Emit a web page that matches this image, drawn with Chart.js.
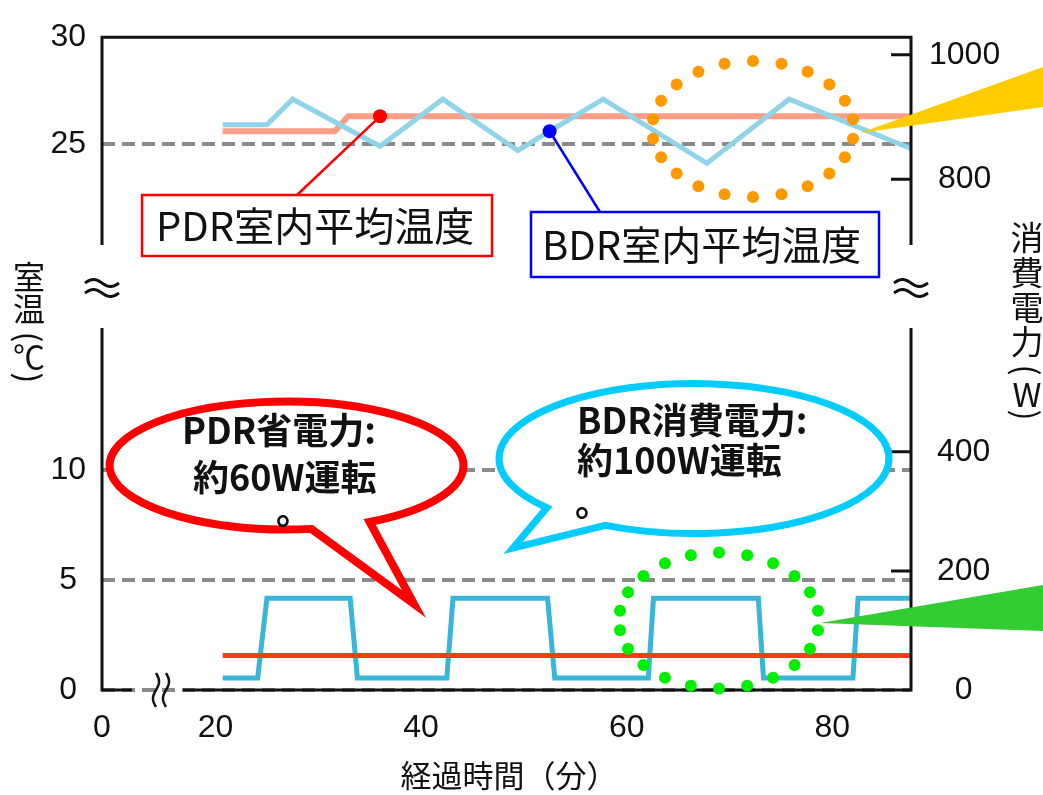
<!DOCTYPE html>
<html>
<head>
<meta charset="utf-8">
<script src="https://cdn.jsdelivr.net/npm/chart.js@4.4.1/dist/chart.umd.min.js"></script>
<style>
  body { margin: 0; background: #fff; overflow: hidden; }
  #wrap { position: relative; width: 1043px; height: 795px; }
  #wrap canvas { position: absolute; left: 0; top: 0; }
</style>
</head>
<body>
<div id="wrap">
  <canvas id="topChart" width="1043" height="795"></canvas>
  <canvas id="bottomChart" width="1043" height="795"></canvas>
</div>
<script>
// 上段: 室内平均温度 (℃)
var bdrTempTime = [20.7, 25.0, 27.5, 36.0, 42.1, 49.4, 57.7, 67.8, 75.8, 87.6];
var bdrTemp     = [25.9, 25.9, 27.1, 24.9, 27.1, 24.7, 27.1, 24.1, 27.1, 24.8];
var pdrTempTime = [20.7, 31.6, 32.9, 87.6];
var pdrTemp     = [25.6, 25.6, 26.3, 26.3];

// 下段: 消費電力 (W)
var bdrPowerTime = [20.7, 24.1, 25.0, 33.1, 33.8, 42.5, 43.1, 52.3, 53.0, 62.1, 62.6, 72.8, 73.3, 82.0, 82.5, 87.6];
var bdrPower     = [20, 20, 154, 154, 20, 20, 154, 154, 20, 20, 154, 154, 20, 20, 154, 154];
var pdrPowerTime = [20.7, 87.6];
var pdrPower     = [58, 58];

// 目盛
var xTicks = [0, 20, 40, 60, 80];
var tempTicksTop = [25, 30];
var tempTicksBottom = [0, 5, 10];
var powerTicksTop = [800, 1000];
var powerTicksBottom = [0, 200, 400];
var dashTop = [25];
var dashBottom = [0, 5, 10];

// 引き出し線の位置 (分, ℃)
var pdrLabelAt = [36.0, 26.3];
var bdrLabelAt = [52.5, 25.6];

var X_MIN = 8.96, X_MAX = 87.65;
var CJK = '"Noto Sans CJK JP", "Noto Sans CJK SC", sans-serif';

Chart.defaults.font.family = '"Liberation Sans", Arial, sans-serif';
Chart.defaults.color = '#111';

function pairs(xs, ys) {
  return xs.map(function (x, i) { return { x: x, y: ys[i] }; });
}
function fixTicks(list) {
  return function (scale) { scale.ticks = list.map(function (v) { return { value: v }; }); };
}
function fixWidth(w) {
  return function (scale) { scale.width = w; };
}
function plain(value) {
  return String(value);
}
function dashColor(list) {
  return function (ctx) {
    return ctx.tick && list.indexOf(ctx.tick.value) >= 0 ? '#8a8a8a' : 'rgba(0,0,0,0)';
  };
}

// 波線 (≈ と ≀)
function tilde(ctx, cx, cy, w, amp) {
  ctx.beginPath();
  for (var k = 0; k <= 30; k++) {
    var px = cx - w / 2 + w * k / 30;
    var py = cy - amp * Math.sin(2 * Math.PI * k / 30);
    if (k) ctx.lineTo(px, py); else ctx.moveTo(px, py);
  }
  ctx.stroke();
}
function waveV(ctx, cx, cy, h, amp) {
  ctx.beginPath();
  for (var k = 0; k <= 30; k++) {
    var py = cy - h / 2 + h * k / 30;
    var px = cx + amp * Math.sin(2 * Math.PI * k / 30);
    if (k) ctx.lineTo(px, py); else ctx.moveTo(px, py);
  }
  ctx.stroke();
}
function dottedEllipse(ctx, cx, cy, rx, ry, n, r, color) {
  ctx.fillStyle = color;
  for (var k = 0; k < n; k++) {
    var a = -Math.PI / 2 + 2 * Math.PI * k / n;
    ctx.beginPath();
    ctx.arc(cx + rx * Math.cos(a), cy + ry * Math.sin(a), r, 0, 2 * Math.PI);
    ctx.fill();
  }
}
function wedge(ctx, pts, color) {
  ctx.fillStyle = color;
  ctx.beginPath();
  ctx.moveTo(pts[0][0], pts[0][1]);
  ctx.lineTo(pts[1][0], pts[1][1]);
  ctx.lineTo(pts[2][0], pts[2][1]);
  ctx.closePath();
  ctx.fill();
}
// 吹き出し: a0..a1 (度) が尻尾の付け根
function bubble(ctx, cx, cy, rx, ry, a0, a1, tip, color, lw) {
  ctx.beginPath();
  ctx.ellipse(cx, cy, rx, ry, 0, a1 * Math.PI / 180, (a0 + 360) * Math.PI / 180);
  ctx.lineTo(tip[0], tip[1]);
  ctx.closePath();
  ctx.fillStyle = '#fff';
  ctx.fill();
  ctx.lineWidth = lw;
  ctx.lineJoin = 'miter';
  ctx.strokeStyle = color;
  ctx.stroke();
}
function verticalTitle(ctx, chars, ys, x, size) {
  ctx.fillStyle = '#111';
  ctx.textAlign = 'center';
  ctx.textBaseline = 'middle';
  ctx.font = size + 'px ' + CJK;
  chars.forEach(function (c, i) {
    if (c === '(' || c === ')') {
      ctx.save();
      ctx.translate(x, ys[i]);
      ctx.rotate(Math.PI / 2);
      ctx.fillText(c, 0, 0);
      ctx.restore();
    } else {
      ctx.fillText(c, x, ys[i]);
    }
  });
}

var topDecor = {
  id: 'topDecor',
  afterDatasetsDraw: function (chart) {
    var ctx = chart.ctx, a = chart.chartArea, yP = chart.scales.yP;
    ctx.save();
    ctx.strokeStyle = '#111';
    ctx.lineWidth = 3;
    ctx.beginPath();
    ctx.moveTo(a.left, a.bottom);
    ctx.lineTo(a.left, a.top);
    ctx.lineTo(a.right, a.top);
    ctx.lineTo(a.right, a.bottom);
    powerTicksTop.forEach(function (v) {
      var py = yP.getPixelForValue(v);
      ctx.moveTo(a.right - 20, py);
      ctx.lineTo(a.right, py);
    });
    ctx.stroke();
    ctx.restore();
  },
  afterDraw: function (chart) {
    var ctx = chart.ctx, x = chart.scales.x, yT = chart.scales.yT, a = chart.chartArea;
    ctx.save();

    // 軸の省略記号
    ctx.strokeStyle = '#111';
    ctx.lineWidth = 3;
    [a.left, a.right].forEach(function (px) {
      tilde(ctx, px, 283, 34, 3.5);
      tilde(ctx, px, 293, 34, 3.5);
    });

    // 軸タイトル
    verticalTitle(ctx, ['室', '温', '(', '℃', ')'], [277, 309, 337, 357, 378], 29, 32);
    verticalTitle(ctx, ['消', '費', '電', '力', '(', 'W', ')'], [237, 272, 307, 341, 370, 394, 415], 1027, 33);

    // PDR ラベル
    var p1 = [x.getPixelForValue(pdrLabelAt[0]), yT.getPixelForValue(pdrLabelAt[1])];
    ctx.strokeStyle = '#ff0000';
    ctx.lineWidth = 2.5;
    ctx.beginPath();
    ctx.moveTo(297, 195);
    ctx.lineTo(p1[0], p1[1]);
    ctx.stroke();
    ctx.fillStyle = '#ff0000';
    ctx.beginPath();
    ctx.arc(p1[0], p1[1], 7, 0, 2 * Math.PI);
    ctx.fill();
    ctx.fillStyle = '#fff';
    ctx.fillRect(142, 195, 350, 61);
    ctx.strokeRect(142, 195, 350, 61);
    ctx.fillStyle = '#111';
    ctx.font = '40px ' + CJK;
    ctx.textAlign = 'left';
    ctx.textBaseline = 'middle';
    ctx.fillText('PDR室内平均温度', 156, 226);

    // BDR ラベル
    var p2 = [x.getPixelForValue(bdrLabelAt[0]), yT.getPixelForValue(bdrLabelAt[1])];
    ctx.strokeStyle = '#0000ff';
    ctx.beginPath();
    ctx.moveTo(600, 212);
    ctx.lineTo(p2[0], p2[1]);
    ctx.stroke();
    ctx.fillStyle = '#0000ff';
    ctx.beginPath();
    ctx.arc(p2[0], p2[1], 7, 0, 2 * Math.PI);
    ctx.fill();
    ctx.fillStyle = '#fff';
    ctx.fillRect(531, 212, 348, 65);
    ctx.strokeRect(531, 212, 348, 65);
    ctx.fillStyle = '#111';
    ctx.fillText('BDR室内平均温度', 542, 245);

    // 注目範囲
    wedge(ctx, [[860, 133], [1043, 67], [1043, 107]], '#ffcc00');
    dottedEllipse(ctx, 753, 129, 101, 68, 22, 6, '#ff9900');
    ctx.restore();
  }
};

var bottomDecor = {
  id: 'bottomDecor',
  afterDatasetsDraw: function (chart) {
    var ctx = chart.ctx, a = chart.chartArea, yW = chart.scales.yW;
    ctx.save();
    ctx.strokeStyle = '#111';
    ctx.lineWidth = 3;
    ctx.beginPath();
    ctx.moveTo(a.left, a.top);
    ctx.lineTo(a.left, a.bottom);
    ctx.lineTo(a.left + 30, a.bottom);
    ctx.moveTo(a.left + 81, a.bottom);
    ctx.lineTo(a.right, a.bottom);
    ctx.lineTo(a.right, a.top);
    powerTicksBottom.slice(1).forEach(function (v) {
      var py = yW.getPixelForValue(v);
      ctx.moveTo(a.right - 20, py);
      ctx.lineTo(a.right, py);
    });
    ctx.stroke();
    // 横軸の省略記号
    ctx.lineWidth = 2.5;
    waveV(ctx, a.left + 54, a.bottom, 34, 3);
    waveV(ctx, a.left + 64, a.bottom, 34, 3);
    ctx.restore();
  },
  afterDraw: function (chart) {
    var ctx = chart.ctx;
    ctx.save();
    bubble(ctx, 286.5, 465.5, 177, 64, 62, 82, [414, 604], '#ff0000', 8);
    bubble(ctx, 694, 458.5, 195, 75, 117, 139, [513, 548], '#00ccff', 7);

    ctx.fillStyle = '#111';
    ctx.font = 'bold 36px ' + CJK;
    ctx.textAlign = 'left';
    ctx.textBaseline = 'middle';
    ctx.fillText('PDR省電力:', 182, 430);
    ctx.fillText('約60W運転', 193, 477);
    ctx.fillText('。', 276, 510);
    ctx.fillText('BDR消費電力:', 577, 420);
    ctx.fillText('約100W運転', 577, 460);
    ctx.fillText('。', 575, 502);

    // 横軸タイトル
    ctx.font = '31px ' + CJK;
    ctx.textAlign = 'center';
    ctx.fillText('経過時間（分）', 509, 775);

    wedge(ctx, [[820, 623], [1043, 585], [1043, 631]], '#33cc33');
    dottedEllipse(ctx, 719, 620.5, 100, 68, 22, 6, '#00ee00');
    ctx.restore();
  }
};

var common = {
  responsive: false,
  animation: false,
  events: [],
  elements: { point: { radius: 0 }, line: { tension: 0, borderCapStyle: 'butt', borderJoinStyle: 'miter' } },
  plugins: { legend: { display: false }, tooltip: { enabled: false } }
};

new Chart(document.getElementById('topChart'), {
  type: 'line',
  data: {
    datasets: [
      { label: 'BDR室内平均温度', data: pairs(bdrTempTime, bdrTemp), borderColor: '#8fd4e8', borderWidth: 5, yAxisID: 'yT' },
      { label: 'PDR室内平均温度', data: pairs(pdrTempTime, pdrTemp), borderColor: '#ff9e86', borderWidth: 6, yAxisID: 'yT' }
    ]
  },
  options: Object.assign({}, common, {
    layout: { padding: { left: 34, right: 24, top: 33, bottom: 550 } },
    scales: {
      x: { type: 'linear', min: X_MIN, max: X_MAX, display: false },
      yT: {
        position: 'left', min: 20.28, max: 30,
        afterBuildTicks: fixTicks(tempTicksTop), afterFit: fixWidth(68),
        ticks: { padding: 16, crossAlign: 'center', font: { size: 32 }, callback: plain },
        grid: { drawTicks: false, lineWidth: 4, color: dashColor(dashTop) },
        border: { display: false, dash: [13, 7] }
      },
      yP: {
        position: 'right', min: 694.5, max: 1028.3,
        afterBuildTicks: fixTicks(powerTicksTop), afterFit: fixWidth(108),
        ticks: { padding: 18, crossAlign: 'center', font: { size: 32 }, callback: plain },
        grid: { display: false, drawTicks: false },
        border: { display: false }
      }
    }
  }),
  plugins: [topDecor]
});

new Chart(document.getElementById('bottomChart'), {
  type: 'line',
  data: {
    datasets: [
      { label: 'PDR消費電力', data: pairs(pdrPowerTime, pdrPower), borderColor: '#ff3b1e', borderWidth: 5, yAxisID: 'yW' },
      { label: 'BDR消費電力', data: pairs(bdrPowerTime, bdrPower), borderColor: '#38b5d9', borderWidth: 5, yAxisID: 'yW' }
    ]
  },
  options: Object.assign({}, common, {
    layout: { padding: { left: 34, right: 24, top: 328, bottom: 0 } },
    scales: {
      x: {
        type: 'linear', min: X_MIN, max: X_MAX,
        afterBuildTicks: function (scale) {
          scale.ticks = xTicks.map(function (v) { return { value: Math.max(v, scale.min) }; });
        },
        afterFit: function (scale) { scale.height = 105; },
        ticks: {
          padding: 19, autoSkip: false, maxRotation: 0, font: { size: 32 },
          callback: function (value, index) { return String(xTicks[index]); }
        },
        grid: { display: false, drawTicks: false },
        border: { display: false }
      },
      yB: {
        position: 'left', min: 0, max: 16.45,
        afterBuildTicks: fixTicks(tempTicksBottom), afterFit: fixWidth(68),
        ticks: { padding: 16, crossAlign: 'center', font: { size: 32 }, callback: plain },
        grid: { drawTicks: false, lineWidth: 4, color: dashColor(dashBottom) },
        border: { display: false, dash: [13, 7] }
      },
      yW: {
        position: 'right', min: 0, max: 608,
        afterBuildTicks: fixTicks(powerTicksBottom), afterFit: fixWidth(108),
        ticks: { padding: 26, crossAlign: 'center', font: { size: 32 }, callback: plain },
        grid: { display: false, drawTicks: false },
        border: { display: false }
      }
    }
  }),
  plugins: [bottomDecor]
});
</script>
</body>
</html>
